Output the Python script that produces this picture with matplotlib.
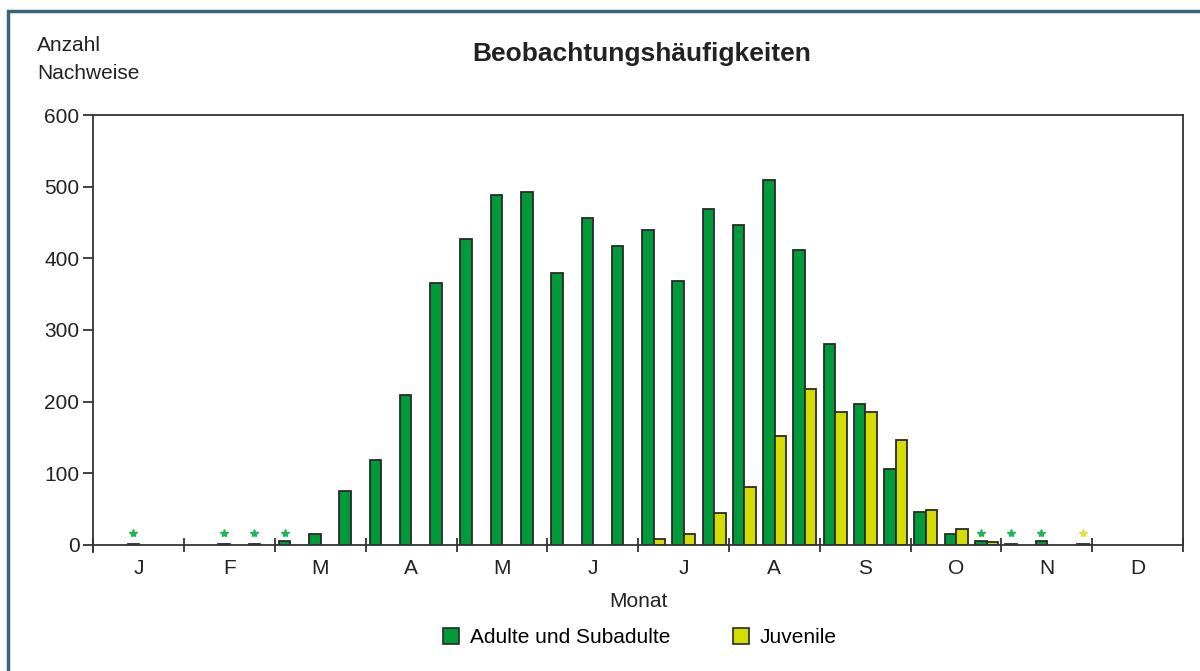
import numpy as np
import matplotlib
matplotlib.use("Agg")
import matplotlib.pyplot as plt
from matplotlib.patches import Patch, Rectangle

plt.rcParams['font.family'] = ['Liberation Sans', 'DejaVu Sans']

# Daten: Nachweise je Monatsdrittel (Dekade), 36 Werte
months = ['J', 'F', 'M', 'A', 'M', 'J', 'J', 'A', 'S', 'O', 'N', 'D']
adult = [0, 1, 0,   0, 1, 1,   6, 15, 76,   118, 209, 366,
         427, 489, 493,   380, 456, 417,   439, 368, 469,   447, 510, 412,
         280, 197, 106,   46, 15, 5,   1, 5, 0,   0, 0, 0]
juvenile = [0, 0, 0,   0, 0, 0,   0, 0, 0,   0, 0, 0,
            0, 0, 0,   0, 0, 0,   8, 15, 44,   81, 152, 218,
            186, 186, 147,   49, 22, 4,   0, 0, 1,   0, 0, 0]
# Dekaden mit Sternchen-Markierung
adult_marks = [1, 4, 5, 6, 29, 30, 31]
juvenile_marks = [32]

green = '#009a3a'
yellow = '#d5dd00'
edge = '#2a2a2a'
fs = 15

fig = plt.figure(figsize=(12, 6.71), dpi=100)
ax = fig.add_axes([0.0778, 0.1878, 0.9080, 0.6408])

x = np.arange(len(adult))
adult = np.array(adult)
juvenile = np.array(juvenile)
w = 0.38
m = adult > 0
ax.bar(x[m] + 0.32, adult[m], width=w, color=green, edgecolor=edge, linewidth=1.3)
m = juvenile > 0
ax.bar(x[m] + 0.70, juvenile[m], width=w, color=yellow, edgecolor=edge, linewidth=1.3)

ax.plot(np.array(adult_marks) + 0.32, [17] * len(adult_marks), linestyle='none',
        marker='*', markersize=6, color='#22b45a')
ax.plot(np.array(juvenile_marks) + 0.70, [17] * len(juvenile_marks), linestyle='none',
        marker='*', markersize=6, color='#e0e040')

ax.set_xlim(0, 36)
ax.set_ylim(0, 600)
ax.set_yticks(range(0, 601, 100))
ax.set_xticks(np.arange(0, 37, 3))
ax.set_xticklabels([])
ax.set_xticks(np.arange(1.5, 36, 3), minor=True)
ax.set_xticklabels(months, minor=True)
ax.tick_params(axis='x', which='minor', length=0, pad=10, labelsize=fs, colors='#222222')
ax.tick_params(axis='x', which='major', direction='inout', length=10, width=1.3, color='#333333')
ax.tick_params(axis='y', direction='out', length=7, width=1.3, color='#333333',
               labelsize=fs, labelcolor='#222222', pad=3)
for s in ax.spines.values():
    s.set_color('#333333')
    s.set_linewidth(1.3)
ax.spines['left'].set_bounds(-10, 600)
ax.spines['left'].set_clip_on(False)

ax.set_xlabel('Monat', fontsize=fs, color='#222222', labelpad=10)
fig.text(0.031, 0.947, 'Anzahl\nNachweise', fontsize=fs, color='#222222',
         ha='left', va='top', linespacing=1.65)
fig.text(0.535, 0.92, 'Beobachtungshäufigkeiten', fontsize=19, fontweight='bold',
         color='#222222', ha='center', va='center')

handles = [Patch(facecolor=green, edgecolor=edge, linewidth=1.2, label='Adulte und Subadulte'),
           Patch(facecolor=yellow, edgecolor=edge, linewidth=1.2, label='Juvenile')]
fig.legend(handles=handles, loc='center', bbox_to_anchor=(0.533, 0.05), ncol=2,
           frameon=False, fontsize=fs, handlelength=0.8, handleheight=0.8,
           handletextpad=0.5, columnspacing=3.0)

# Rahmen
fig.patches.append(Rectangle((0.0067, -0.1), 1.2, 1.084, transform=fig.transFigure,
                             fill=False, edgecolor='#3a6478', linewidth=2.5))

fig.savefig('out.png', dpi=100, facecolor='white')
